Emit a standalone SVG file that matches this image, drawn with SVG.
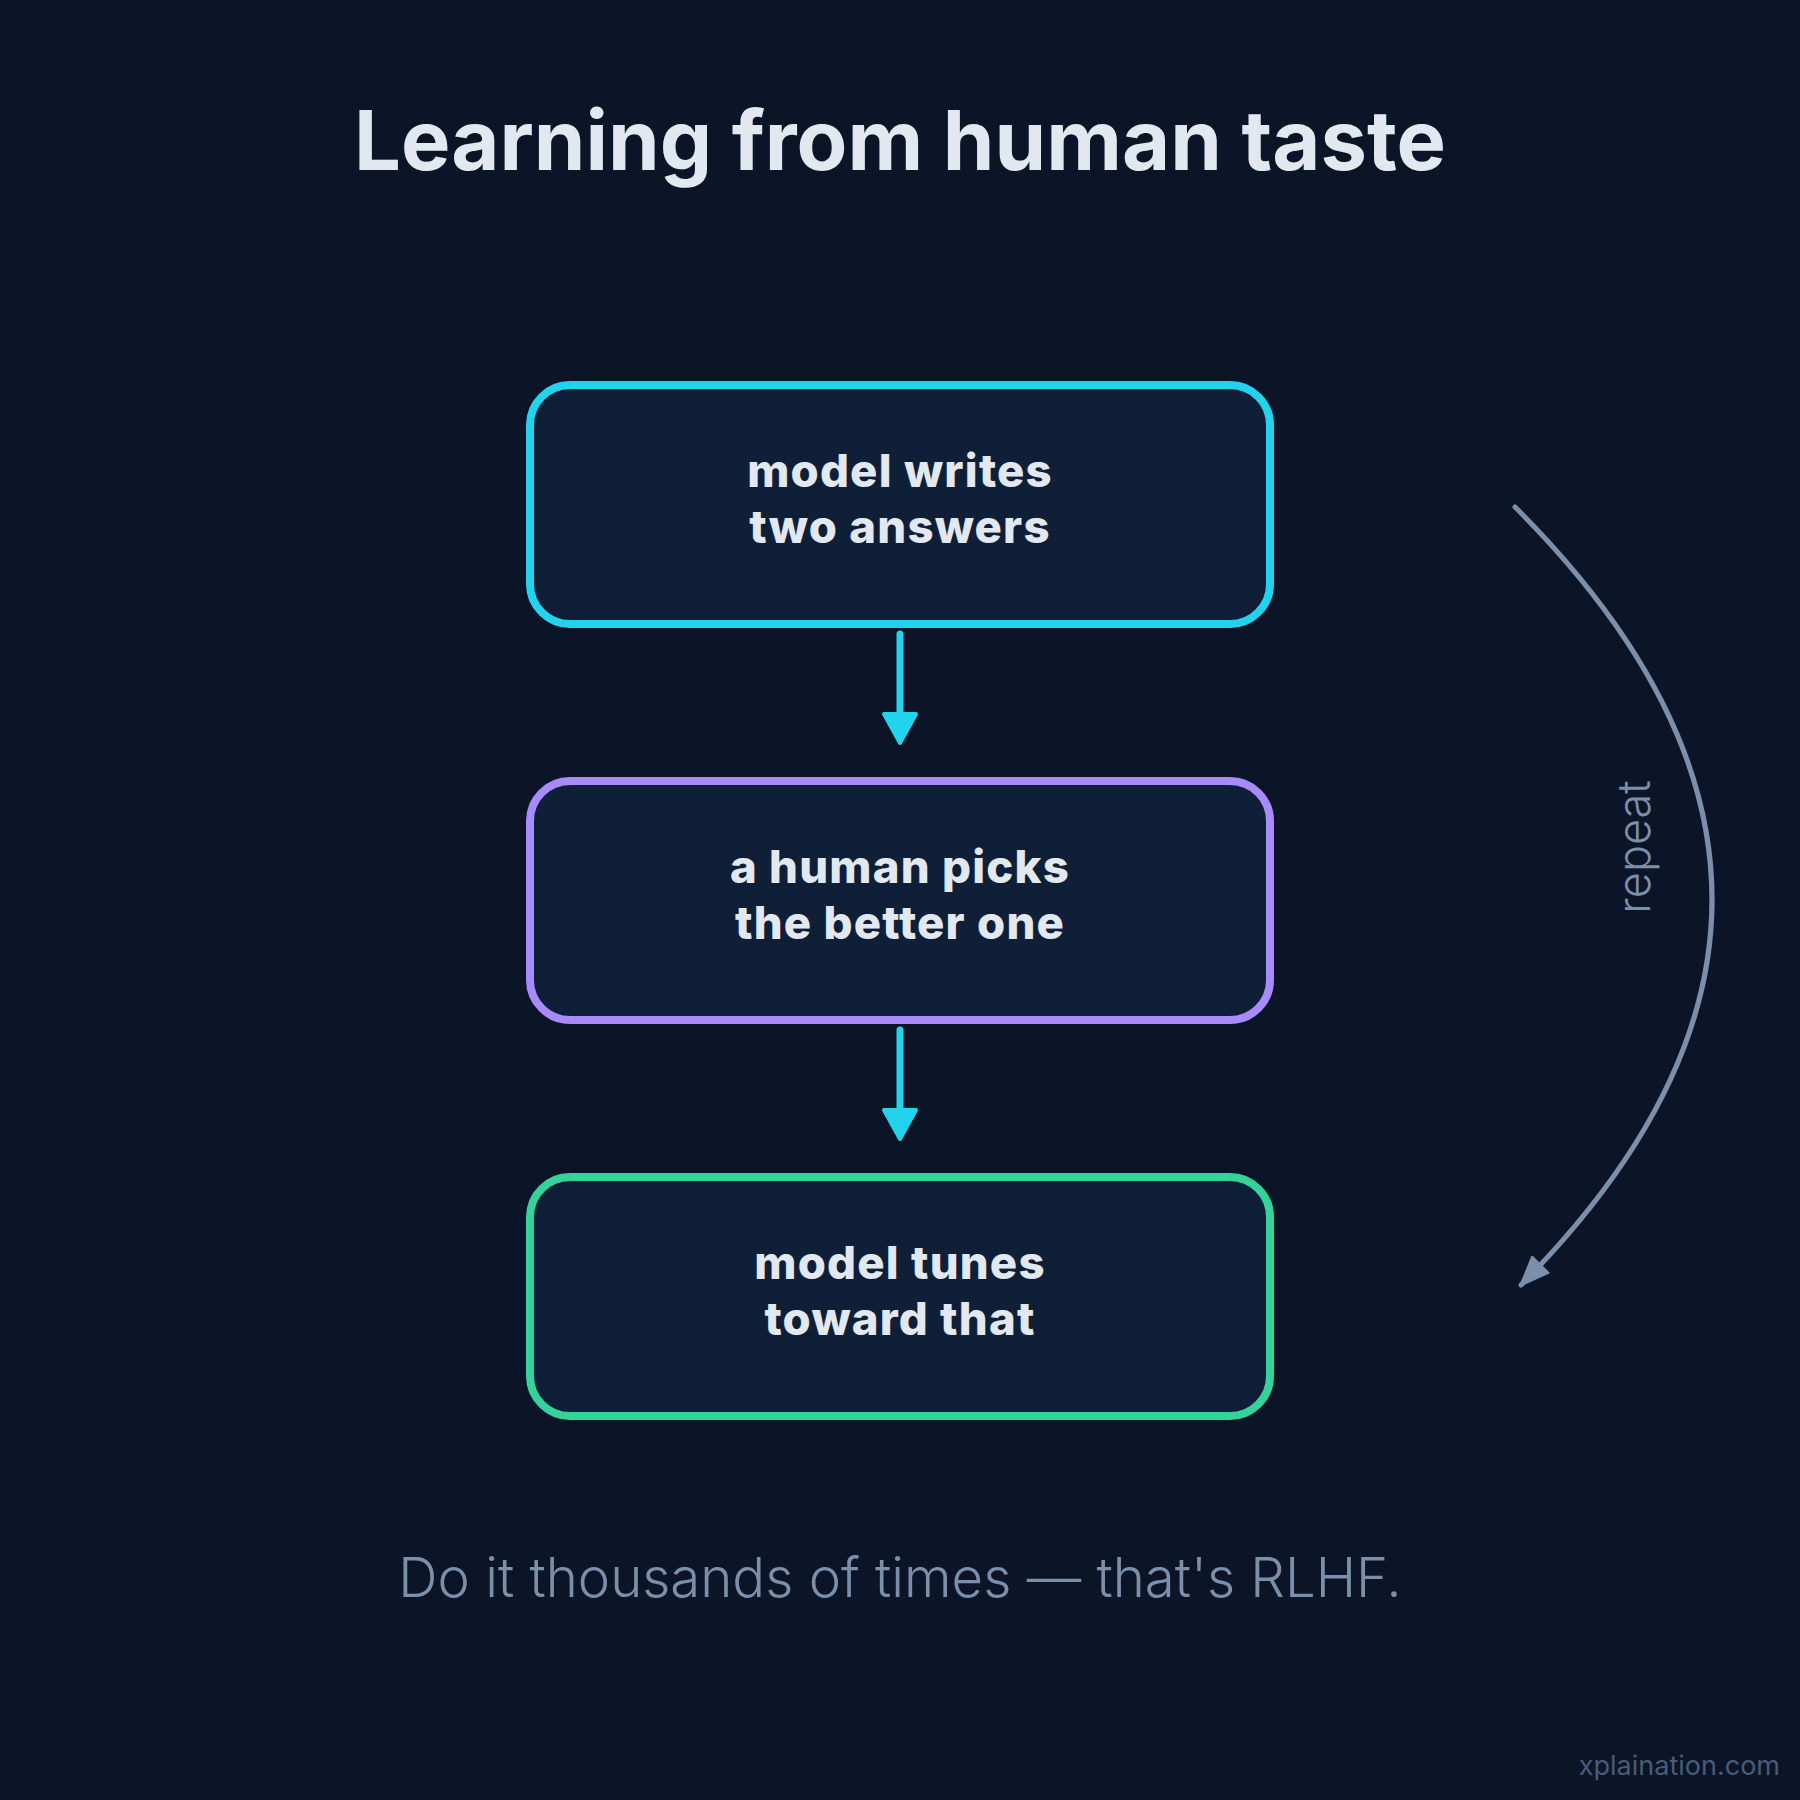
<svg xmlns="http://www.w3.org/2000/svg" width="1800" height="1800" viewBox="0 0 1800 1800">
<style>
.title{font-family:Inter,"Liberation Sans",sans-serif;font-weight:700;font-size:83px;fill:#e2e8f0;}
.box{fill:#0f1f38;stroke-width:8;}
.lbl{font-family:Inter,"Liberation Sans",sans-serif;font-weight:800;font-size:45.5px;letter-spacing:1.2px;fill:#e2e8f0;text-anchor:middle;}
.flow{stroke:#22d3ee;stroke-width:7;stroke-linecap:round;fill:none;}
.head{fill:#22d3ee;stroke:#22d3ee;stroke-width:4;stroke-linejoin:round;}
.loop{stroke:#7d8ea9;stroke-width:5;stroke-linecap:round;fill:none;}
.note{font-family:Inter,"Liberation Sans",sans-serif;font-weight:300;fill:#7d8ea9;}
</style>
<defs>
<marker id="loophead" markerUnits="userSpaceOnUse" markerWidth="34" markerHeight="28" refX="30" refY="13" orient="auto" viewBox="0 0 34 28">
<path d="M2,2 L31,13 L2,25 Z" fill="#7d8ea9" stroke="#7d8ea9" stroke-width="2" stroke-linejoin="round"/>
</marker>
</defs>
<rect width="1800" height="1800" fill="#0b1527"/>
<text class="title" x="900" y="170" text-anchor="middle">Learning from human taste</text>

<g id="node-writes">
<rect class="box" x="530" y="385" width="740" height="239" rx="40" stroke="#22d3ee"/>
<text class="lbl" x="900" y="487">model writes</text>
<text class="lbl" x="900" y="543">two answers</text>
</g>
<g id="node-picks">
<rect class="box" x="530" y="781" width="740" height="239" rx="40" stroke="#a78bfa"/>
<text class="lbl" x="900" y="883">a human picks</text>
<text class="lbl" x="900" y="939">the better one</text>
</g>
<g id="node-tunes">
<rect class="box" x="530" y="1177" width="740" height="239" rx="40" stroke="#34d399"/>
<text class="lbl" x="900" y="1279">model tunes</text>
<text class="lbl" x="900" y="1335">toward that</text>
</g>

<g id="connectors">
<line class="flow" x1="900" y1="634" x2="900" y2="716"/>
<path class="head" d="M884,714 L916,714 L900,743 Z"/>
<line class="flow" x1="900" y1="1030" x2="900" y2="1112"/>
<path class="head" d="M884,1110 L916,1110 L900,1139 Z"/>
<path class="loop" d="M1515,507 Q1906,897 1521,1285" marker-end="url(#loophead)"/>
<text class="note" font-size="45" transform="translate(1650,847) rotate(-90)" text-anchor="middle">repeat</text>
</g>

<text class="note" font-size="54.5" x="900" y="1597" text-anchor="middle">Do it thousands of times — that's RLHF.</text>
<text x="1780" y="1775" text-anchor="end" font-family="Inter,'Liberation Sans',sans-serif" font-size="27" fill="#4a5b78">xplaination.com</text>
</svg>
